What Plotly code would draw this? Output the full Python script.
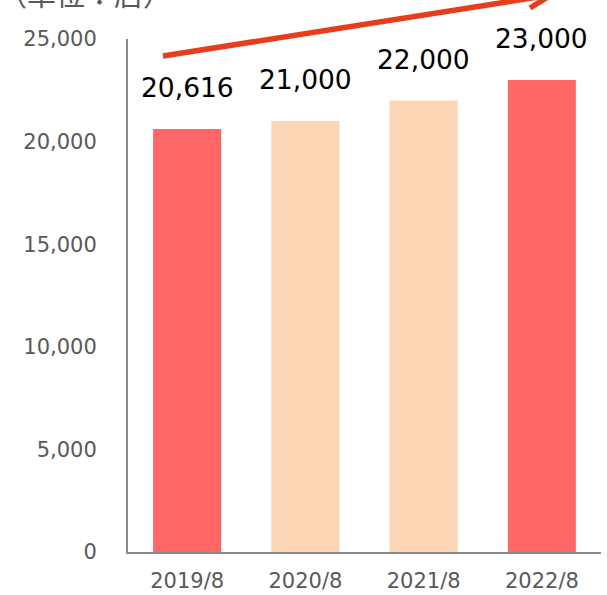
import plotly.graph_objects as go

# ---- data ----
categories = ["2019/8", "2020/8", "2021/8", "2022/8"]
stores = [20616, 21000, 22000, 23000]
bar_colors = ["#FF6666", "#FCD5B5", "#FCD5B5", "#FF6666"]
y_tick_vals = [0, 5000, 10000, 15000, 20000, 25000]
y_tick_text = ["0", "5,000", "10,000", "15,000", "20,000", "25,000"]
unit_label = "（単位：店）"

W, H = 607, 595
L, R, T, B = 128, 6, 39, 43
PW, PH = W - L - R, H - T - B

def px(x):
    return (x - L) / PW

def py(y):
    return (H - B - y) / PH

FONT = "DejaVu Sans, Verdana, sans-serif"
TICK_COLOR = "#595959"
AXIS_COLOR = "#898989"
ARROW_COLOR = "#E63E1C"

fig = go.Figure()
fig.add_trace(go.Bar(
    x=categories, y=stores, marker=dict(color=bar_colors, line=dict(width=0)),
    hoverinfo="skip", showlegend=False,
))

annotations = []
for c, v in zip(categories, stores):
    annotations.append(dict(
        x=c, y=v, xref="x", yref="y", text=f"{v:,}", showarrow=False,
        yanchor="bottom", yshift=24,
        font=dict(family=FONT, size=26.5, color="#000000"),
    ))
annotations.append(dict(
    x=px(85), y=py(-7), xref="paper", yref="paper", text=unit_label,
    showarrow=False, xanchor="center", yanchor="middle",
    font=dict(family="Noto Sans CJK JP, sans-serif", size=29, color=TICK_COLOR),
))

shapes = [
    dict(type="line", xref="paper", yref="paper",
         x0=px(163), y0=py(56), x1=px(551), y1=py(-5),
         line=dict(color=ARROW_COLOR, width=5.5)),
    dict(type="line", xref="paper", yref="paper",
         x0=px(530), y0=py(8), x1=px(551), y1=py(-5),
         line=dict(color=ARROW_COLOR, width=5.5)),
]

fig.update_layout(
    width=W, height=H,
    margin=dict(l=L, r=R, t=T, b=B, pad=0, autoexpand=False),
    paper_bgcolor="white", plot_bgcolor="white",
    bargap=0.425,
    annotations=annotations,
    shapes=shapes,
    xaxis=dict(
        showline=True, linecolor=AXIS_COLOR, linewidth=2,
        showgrid=False, ticks="", zeroline=False, automargin=False,
        tickfont=dict(family=FONT, size=21, color=TICK_COLOR),
        ticklabelstandoff=9,
    ),
    yaxis=dict(
        range=[0, 25000], showline=True, linecolor=AXIS_COLOR, linewidth=2,
        showgrid=False, ticks="", zeroline=False, automargin=False,
        tickvals=y_tick_vals, ticktext=y_tick_text,
        tickfont=dict(family=FONT, size=21, color=TICK_COLOR),
        ticklabelstandoff=25,
    ),
)

fig.write_html(
    "out.html",
    config={"displayModeBar": False, "staticPlot": True},
    post_script="document.body.style.margin='0';document.body.style.overflow='hidden';",
)
